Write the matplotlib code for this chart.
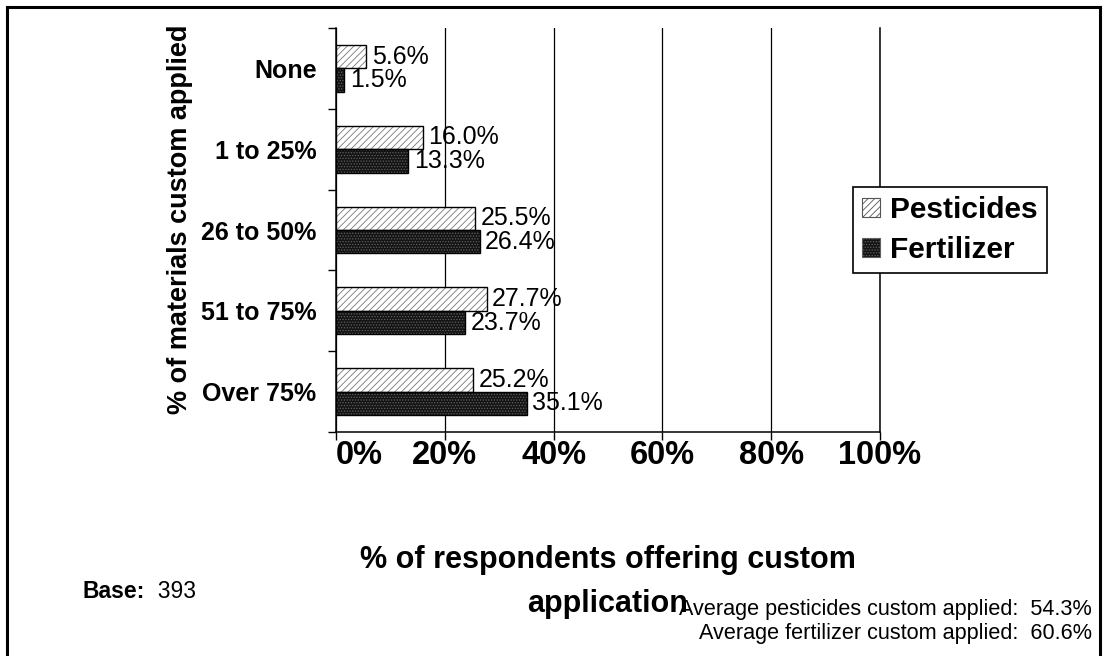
"""
Custom application share chart (Pesticides vs Fertilizer)
"""

import matplotlib

matplotlib.use("Agg")

import matplotlib.pyplot as plt
from matplotlib.lines import Line2D
from matplotlib.patches import Patch
from matplotlib.ticker import FixedLocator, FuncFormatter

plt.rcParams["font.family"] = ["Liberation Sans", "DejaVu Sans"]
plt.rcParams["hatch.linewidth"] = 0.6

# data
categories = ["None", "1 to 25%", "26 to 50%", "51 to 75%", "Over 75%"]
pesticides = [5.6, 16.0, 25.5, 27.7, 25.2]
fertilizer = [1.5, 13.3, 26.4, 23.7, 35.1]
series_names = ["Pesticides", "Fertilizer"]
x_ticks = [0, 20, 40, 60, 80, 100]

W, H = 1106, 656
fig = plt.figure(figsize=(W / 100, H / 100), dpi=100)
ax = fig.add_axes([336 / W, 1 - 432 / H, 544 / W, 404 / H])

ypos = list(range(len(categories)))
bar_h = 0.29

# pesticides: white with gray diagonal hatch
pest_y = [y - bar_h / 2 for y in ypos]
fert_y = [y + bar_h / 2 for y in ypos]
ax.barh(pest_y, pesticides, height=bar_h, color="white", edgecolor="#777777",
        hatch="/////", linewidth=0, zorder=2)
ax.barh(pest_y, pesticides, height=bar_h, fill=False, edgecolor="black",
        linewidth=1.0, zorder=3)
# fertilizer: near-black with dotted texture
ax.barh(fert_y, fertilizer, height=bar_h, color="#141414", edgecolor="#606060",
        hatch="......", linewidth=0, zorder=2)
ax.barh(fert_y, fertilizer, height=bar_h, fill=False, edgecolor="black",
        linewidth=1.0, zorder=3)

# value labels
for y, v in zip(pest_y, pesticides):
    ax.annotate(f"{v:.1f}%", xy=(v, y), xytext=(4, 0), textcoords="offset points",
                va="center", ha="left", fontsize=18, zorder=4)
for y, v in zip(fert_y, fertilizer):
    ax.annotate(f"{v:.1f}%", xy=(v, y), xytext=(4, 0), textcoords="offset points",
                va="center", ha="left", fontsize=18, zorder=4)

ax.set_xlim(0, 100)
ax.set_ylim(len(categories) - 0.5, -0.5)

# x axis
ax.set_xticks(x_ticks)
ax.xaxis.set_major_formatter(FuncFormatter(lambda v, p: f"{v:.0f}%"))
ax.tick_params(axis="x", direction="out", length=6, width=1, pad=0,
               labelsize=23.5)
for lbl in ax.get_xticklabels():
    lbl.set_fontweight("bold")
ax.get_xticklabels()[0].set_ha("left")
ax.grid(axis="x", color="black", linewidth=0.9, zorder=1)

# y axis: boundary ticks, category labels at centres
ax.yaxis.set_major_locator(FixedLocator([i - 0.5 for i in range(len(categories) + 1)]))
ax.yaxis.set_major_formatter(FuncFormatter(lambda v, p: ""))
ax.yaxis.set_minor_locator(FixedLocator(ypos))
ax.set_yticklabels(categories, minor=True)
ax.tick_params(axis="y", which="major", direction="out", length=6, width=1)
ax.tick_params(axis="y", which="minor", length=0, pad=14, labelsize=18)
for lbl in ax.get_yticklabels(minor=True):
    lbl.set_fontweight("bold")

ax.spines["top"].set_visible(False)
for s in ["left", "bottom", "right"]:
    ax.spines[s].set_linewidth(1.1)
ax.set_axisbelow(True)

# axis titles
fig.text(180 / W, 1 - 219 / H, "% of materials custom applied", rotation=90,
         ha="center", va="center", fontsize=19.5, fontweight="bold")
fig.text(608 / W, 1 - 582 / H, "% of respondents offering custom\napplication",
         ha="center", va="center", fontsize=22, fontweight="bold",
         linespacing=1.6)

# legend
handles = [
    Patch(facecolor="white", edgecolor="#555555", hatch="/////", linewidth=0.8),
    Patch(facecolor="#141414", edgecolor="#606060", hatch="......", linewidth=0.8),
]
leg = fig.legend(handles, series_names, loc="center",
                 bbox_to_anchor=(950 / W, 1 - 230 / H), fancybox=False,
                 edgecolor="black", framealpha=1, handlelength=0.6,
                 handleheight=0.6, handletextpad=0.35, labelspacing=0.4,
                 borderpad=0.3, prop={"size": 21.5, "weight": "bold"})
leg.get_frame().set_linewidth(1.2)

# footnotes
base = fig.text(83 / W, 1 - 591 / H, "Base:", fontsize=16.5, fontweight="bold",
                ha="left", va="center")
plt.annotate("  393", xy=(1, 0), xycoords=base, va="bottom", ha="left",
             fontsize=16.5)
fig.text(1092 / W, 1 - 609 / H, "Average pesticides custom applied:  54.3%",
         ha="right", va="center", fontsize=15.6)
fig.text(1092 / W, 1 - 633 / H, "Average fertilizer custom applied:  60.6%",
         ha="right", va="center", fontsize=15.6)

# outer border (top, left, right)
for xs, ys in [([7, 7], [-5, 7]), ([7, 1100], [7, 7]), ([1100, 1100], [7, -5])]:
    fig.add_artist(Line2D([x / W for x in xs], [1 - y / H if y >= 0 else 0 for y in ys],
                          color="black", linewidth=2.2, transform=fig.transFigure))

fig.savefig("out.png", dpi=100)
